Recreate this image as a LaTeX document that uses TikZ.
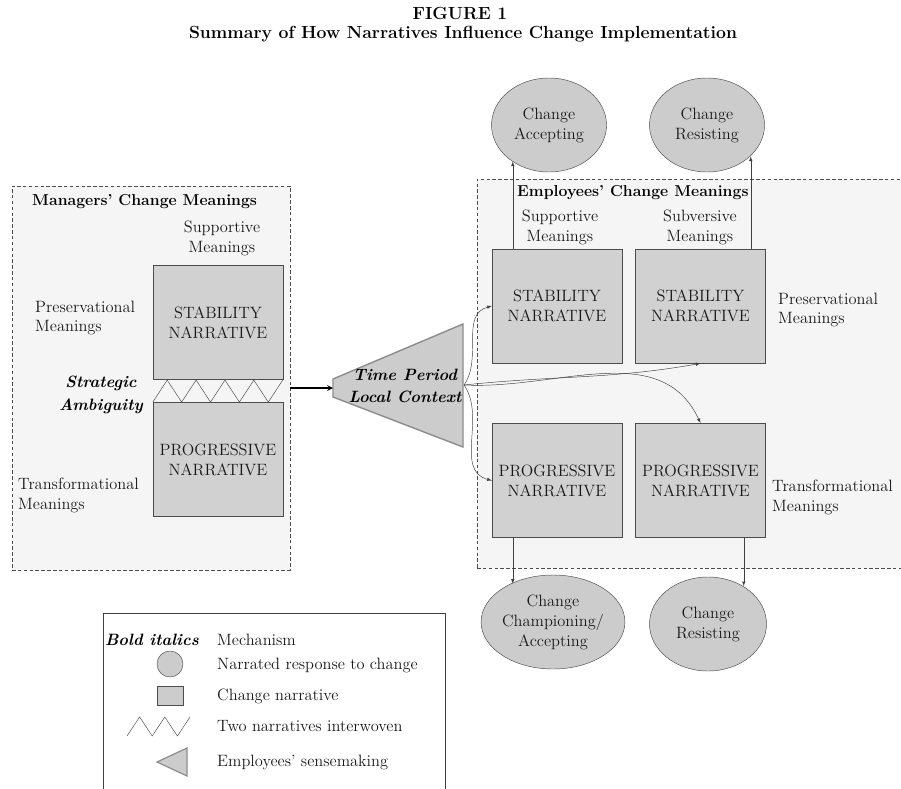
\documentclass[tikz,border=0pt]{standalone}
\usetikzlibrary{shapes.geometric,arrows,positioning}
\begin{document}
\begin{tikzpicture}[x=0.03cm,y=-0.03cm,font=\fontsize{14}{17}\selectfont]
	%defines
	\tikzstyle{region} = [rectangle, draw=black!70, dash pattern=on 3pt off 2pt, fill=black!4, inner sep=0]
	\tikzstyle{narrative} = [rectangle, minimum width=3.9cm, minimum height=3.43cm, align=center, draw=black!70, fill=black!18, text=black!90]
	\tikzstyle{response} = [ellipse, minimum width=3.45cm, minimum height=2.82cm, inner sep=0, align=center, draw=black!70, fill=black!20, text=black!90]
	\tikzstyle{meaning} = [align=left, inner sep=0, text=black!90]
	\tikzstyle{heading} = [inner sep=0, font=\fontsize{13.5}{16}\selectfont\bfseries]
	\tikzstyle{title} = [inner sep=0, font=\fontsize{15}{18}\selectfont\bfseries]
	\tikzstyle{mechanism} = [align=center, inner sep=0, font=\fontsize{14}{19}\selectfont\bfseries\itshape]
	\tikzstyle{weave} = [black!70]
	\tikzstyle{arrow} = [->,>=latex, black!75]
	\tikzstyle{thickarrow} = [very thick,->,>=stealth]
	\useasboundingbox (0,0) rectangle (901,789);
	%title
	\node (figno) [title] at (460,13) {FIGURE 1};
	\node (figtitle) [title] at (463,34) {Summary of How Narratives Influence Change Implementation};
	%regions
	\node (managers) [region, minimum width=8.34cm, minimum height=11.52cm] at (151,378) {};
	\node (employees) [region, minimum width=12.9cm, minimum height=11.67cm] at (692,373.5) {};
	%managers
	\node (mgrhead) [heading, anchor=west] at (32,202) {Managers' Change Meanings};
	\node (mgrsupp) [meaning, align=center] at (222,238) {Supportive\\Meanings};
	\node (mgrstab) [narrative] at (218,322.5) {STABILITY\\NARRATIVE};
	\node (mgrprog) [narrative] at (218,459.5) {PROGRESSIVE\\NARRATIVE};
	\node (mgrpres) [meaning, anchor=west] at (35,318) {Preservational\\Meanings};
	\node (mgrtrans) [meaning, anchor=west] at (18,495) {Transformational\\Meanings};
	\node (ambiguity) [mechanism] at (101,395) {Strategic\\Ambiguity};
	\draw [weave] (mgrprog.north west) -- ++(14.44,-22) \foreach \k in {1,...,4} { -- ++(14.44,22) -- ++(14.44,-22) };
	%sensemaking
	\coordinate (ctxin) at (333,388);
	\coordinate (ctxout) at (464,385);
	\filldraw [fill=black!20, draw=black!45, line width=1.2pt] (333,379) -- (463,324) -- (463,447) -- (333,397) -- cycle;
	\node (context) [mechanism] at (405,386) {Time Period\\Local Context};
	\draw [thickarrow] (managers.east |- ctxin) -- (ctxin);
	%employees
	\node (emphead) [heading, anchor=west] at (517,193) {Employees' Change Meanings};
	\node (empsupp) [meaning, align=center] at (560,227) {Supportive\\Meanings};
	\node (empsubv) [meaning, align=center] at (700,227) {Subversive\\Meanings};
	\node (empstabA) [narrative] at (557,306) {STABILITY\\NARRATIVE};
	\node (empstabB) [narrative] at (700.5,306) {STABILITY\\NARRATIVE};
	\node (empprogA) [narrative] at (557,480.5) {PROGRESSIVE\\NARRATIVE};
	\node (empprogB) [narrative] at (700.5,480.5) {PROGRESSIVE\\NARRATIVE};
	\node (emppres) [meaning, anchor=west] at (778,310) {Preservational\\Meanings};
	\node (emptrans) [meaning, anchor=west] at (772,497) {Transformational\\Meanings};
	%responses
	\node (accept) [response] at (549,125) {Change\\Accepting};
	\node (resistTop) [response] at (707,125) {Change\\Resisting};
	\node (champion) [response, minimum width=3.69cm] at (553,622) {Change\\Championing/\\Accepting};
	\node (resistBot) [response, minimum width=3.51cm] at (708,624) {Change\\Resisting};
	\draw [arrow] (empstabA.north west) ++(21,0) coordinate (upA) -- (upA |- accept.225);
	\draw [arrow] (empstabB.north east) ++(-15,0) coordinate (upB) -- (upB |- resistTop.-36);
	\draw [arrow] (empprogA.south west) ++(21,0) coordinate (downA) -- (downA |- champion.138);
	\draw [arrow] (empprogB.south east) ++(-22,0) coordinate (downB) -- (downB |- resistBot.47);
	\draw [arrow] (ctxout) to[out=55,in=195] (empstabA.west);
	\draw [arrow] (ctxout) to[out=6,in=190] (empstabB.south);
	\draw [arrow] (ctxout) to[out=-3,in=115] (empprogB.north);
	\draw [arrow] (ctxout) to[out=-55,in=165] (empprogA.west);
	%legend
	\draw [black!75] (103,800) -- (103,613) -- (445,613) -- (445,800);
	\node (keyhead) [mechanism, anchor=east] at (199,640) {Bold italics};
	\node (keymech) [meaning, anchor=west] at (217,640) {Mechanism};
	\node (keycircle) [circle, minimum size=0.78cm, draw=black!70, fill=black!20] at (170,664) {};
	\node (keycircletext) [meaning, anchor=west] at (217,665) {Narrated response to change};
	\node (keysquare) [rectangle, minimum width=0.78cm, minimum height=0.57cm, draw=black!70, fill=black!20] at (170,695.5) {};
	\node (keysquaretext) [meaning, anchor=west] at (217,696) {Change narrative};
	\draw [weave] (127,736) -- (139.6,717) -- (152.2,736) -- (164.8,717) -- (177.4,736) -- (190,717);
	\node (keyweavetext) [meaning, anchor=west] at (217,726) {Two narratives interwoven};
	\filldraw [fill=black!20, draw=black!45, line width=1pt] (157,762) -- (187,748) -- (187,776) -- cycle;
	\node (keytritext) [meaning, anchor=west] at (217,762) {Employees' sensemaking};
\end{tikzpicture}
\end{document}
